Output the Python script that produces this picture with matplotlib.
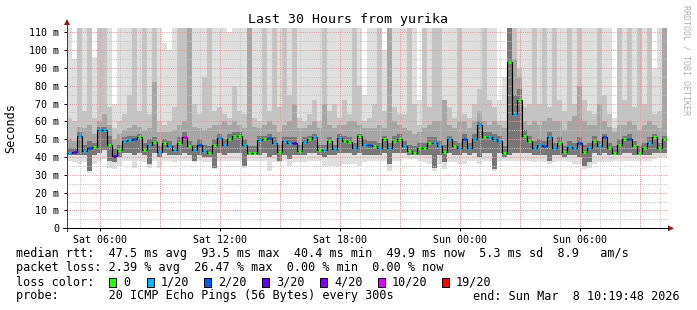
import numpy as np
import matplotlib
matplotlib.use("Agg")
import matplotlib.pyplot as plt
import matplotlib.dates as mdates
from matplotlib.patches import Polygon, Rectangle
from datetime import datetime, timedelta

# ---------------- data ----------------
start_time = datetime(2026, 3, 7, 4, 19, 48)
step_minutes = 15

median_ms = [42.5, 42.6, 52, 43.5, 45, 45.5, 55, 55, 47, 40.4,
             44, 49, 49.5, 50, 51.4, 44, 47, 48.5, 43, 48,
             46, 44, 48, 51, 46, 44, 47, 43.5, 42, 47,
             50.5, 47, 50, 52, 52, 47, 42, 42, 49.5, 50,
             50.5, 48, 43, 49, 48, 48, 43.5, 48.5, 50, 51,
             44, 44, 49, 44.5, 50.5, 49, 48.6, 45, 51.5, 47,
             46.5, 46, 45, 50, 45, 49, 50, 46, 43.5, 42.5,
             45, 45, 48, 48, 46, 43, 50, 46, 45, 50,
             45, 50, 58, 51, 51, 50, 49, 42.5, 93.5, 64,
             72, 52, 49, 45, 47, 46, 51, 45, 48, 42.8,
             45.5, 45, 48, 43, 45, 49, 46, 51, 45, 42.5,
             47, 50, 50, 46, 42.5, 45, 48, 51, 45, 49.9]

loss_idx = [1, 3, 1, 1, 2, 0, 1, 1, 0, 3,
            0, 1, 1, 2, 0, 0, 1, 0, 1, 0,
            1, 1, 0, 5, 0, 1, 2, 1, 0, 0,
            1, 1, 0, 0, 0, 1, 0, 0, 1, 0,
            2, 1, 0, 1, 1, 3, 0, 1, 0, 1,
            0, 1, 0, 1, 1, 0, 0, 1, 0, 1,
            2, 0, 1, 0, 1, 0, 0, 1, 0, 0,
            0, 0, 0, 1, 1, 0, 1, 0, 1, 2,
            1, 1, 1, 0, 1, 1, 1, 0, 0, 1,
            0, 0, 0, 1, 1, 2, 1, 1, 0, 0,
            1, 1, 2, 0, 1, 0, 1, 2, 0, 0,
            0, 0, 2, 0, 0, 0, 1, 0, 0, 0]

ping_min = [38, 37, 36, 37, 31, 36, 38, 39, 34, 33,
            35, 38, 38, 34, 38, 37, 34, 38, 34, 38,
            38, 37, 38, 38, 38, 37, 38, 37, 37, 33,
            38, 38, 38, 38, 38, 34, 38, 38, 38, 38,
            32, 37, 37, 38, 35, 37, 37, 37, 38, 38,
            38, 35, 35, 35, 35, 36, 36, 36, 35, 37,
            38, 38, 38, 38, 32, 38, 38, 40, 39, 39,
            38, 37, 36, 32, 36, 33, 37, 37, 36, 36,
            38, 38, 36, 38, 38, 32, 38, 38, 38, 38,
            38, 38, 38, 37, 38, 37, 36, 37, 38, 38,
            37, 36, 36, 33, 34, 36, 37, 37, 37, 38,
            38, 38, 38, 38, 38, 38, 38, 39, 40, 40]

ping_low = [41, 41, 41, 41, 32, 41, 42, 44, 38, 37,
            40, 42, 42, 41, 42, 41, 36, 42, 40, 42,
            41, 41, 41, 42, 41, 38, 41, 40, 40, 34,
            42, 41, 42, 42, 42, 35, 41, 41, 41, 42,
            40, 41, 38, 41, 39, 41, 41, 41, 42, 42,
            41, 40, 41, 41, 42, 42, 42, 41, 42, 41,
            41, 41, 41, 42, 36, 42, 42, 42, 41, 41,
            41, 41, 41, 34, 41, 37, 42, 41, 41, 42,
            41, 42, 40, 42, 42, 33, 42, 40, 41, 42,
            42, 42, 42, 41, 41, 41, 38, 41, 41, 40,
            41, 41, 40, 35, 37, 42, 41, 42, 41, 41,
            41, 42, 42, 41, 41, 41, 41, 42, 42, 42]

ping_core_hi = [45, 45, 54, 47, 49, 48, 57, 57, 52, 45,
                47, 51, 52, 52, 53, 48, 50, 51, 46, 50,
                49, 47, 51, 54, 49, 47, 50, 47, 46, 50,
                53, 50, 53, 54, 54, 50, 46, 46, 52, 52,
                53, 51, 47, 51, 51, 51, 47, 51, 52, 53,
                47, 47, 51, 47, 53, 52, 51, 48, 53, 50,
                49, 49, 48, 52, 48, 52, 53, 49, 47, 46,
                48, 48, 51, 51, 49, 47, 52, 49, 48, 53,
                48, 53, 60, 54, 54, 53, 52, 46, 115, 75,
                78, 55, 52, 49, 50, 49, 54, 48, 51, 46,
                49, 48, 51, 47, 48, 52, 49, 53, 48, 46,
                50, 52, 53, 49, 46, 48, 51, 53, 48, 52]

ping_dark_hi = [50, 49, 57, 56, 58, 53, 60, 64, 58, 50,
                53, 55, 56, 58, 57, 55, 56, 82, 54, 54,
                54, 55, 58, 60, 115, 57, 56, 55, 56, 58,
                58, 60, 58, 60, 58, 56, 115, 57, 56, 58,
                60, 58, 54, 58, 60, 70, 56, 56, 58, 60,
                56, 70, 58, 56, 58, 58, 60, 60, 58, 56,
                56, 56, 58, 56, 115, 60, 58, 56, 55, 53,
                54, 56, 58, 60, 60, 72, 58, 56, 60, 60,
                56, 60, 66, 60, 58, 60, 58, 56, 115, 95,
                85, 60, 58, 60, 58, 60, 62, 60, 60, 55,
                60, 63, 80, 60, 58, 58, 70, 60, 57, 54,
                58, 58, 60, 58, 55, 58, 60, 58, 56, 115]

ping_mid_hi = [62, 60, 115, 66, 115, 62, 115, 115, 68, 56,
               60, 64, 75, 115, 66, 115, 64, 115, 60, 58,
               60, 68, 115, 115, 115, 70, 64, 85, 115, 66,
               68, 64, 62, 80, 66, 64, 115, 62, 60, 115,
               66, 115, 68, 115, 75, 115, 62, 60, 64, 72,
               60, 115, 66, 70, 62, 72, 64, 115, 80, 60,
               62, 70, 115, 66, 115, 68, 64, 64, 115, 70,
               58, 115, 68, 115, 115, 66, 68, 62, 115, 64,
               62, 70, 78, 115, 72, 68, 60, 60, 115, 115,
               90, 68, 70, 115, 70, 115, 68, 115, 72, 66,
               115, 70, 115, 72, 66, 64, 115, 75, 64, 56,
               115, 72, 115, 68, 115, 70, 115, 64, 66, 115]

ping_max = [115, 95, 115, 115, 115, 96, 115, 115, 115, 70,
            115, 115, 115, 115, 115, 115, 115, 115, 115, 104,
            100, 115, 115, 115, 115, 115, 115, 115, 115, 115,
            115, 115, 110, 115, 115, 115, 115, 115, 115, 115,
            115, 115, 115, 115, 115, 115, 115, 115, 115, 115,
            115, 115, 115, 115, 115, 115, 115, 115, 115, 75,
            115, 115, 115, 100, 115, 115, 115, 115, 115, 115,
            72, 115, 115, 115, 115, 115, 115, 115, 115, 115,
            115, 115, 115, 115, 115, 115, 72, 85, 115, 115,
            115, 115, 115, 115, 115, 115, 115, 115, 115, 115,
            115, 115, 115, 115, 115, 115, 115, 115, 115, 62,
            115, 115, 115, 115, 115, 115, 115, 90, 115, 115]

loss_labels = ["0", "1/20", "2/20", "3/20", "4/20", "10/20", "19/20"]
loss_colors = ["#26ff00", "#00b8ff", "#0059ff", "#5e00ff", "#7e00ff", "#dd00ff", "#ff0000"]

y_ticks = [0, 10, 20, 30, 40, 50, 60, 70, 80, 90, 100, 110]
y_tick_labels = ["0", "10 m", "20 m", "30 m", "40 m", "50 m", "60 m", "70 m",
                 "80 m", "90 m", "100 m", "110 m"]
y_max = 112.2

title = "Last 30 Hours from yurika"
stats_rtt = "median rtt:  47.5 ms avg  93.5 ms max  40.4 ms min  49.9 ms now  5.3 ms sd  8.9   am/s"
stats_loss = "packet loss: 2.39 % avg  26.47 % max  0.00 % min  0.00 % now"
probe_text = "probe:       20 ICMP Echo Pings (56 Bytes) every 300s"
end_text = "end: Sun Mar  8 10:19:48 2026"

# ---------------- figure ----------------
W, H = 697, 310
MONO = "DejaVu Sans Mono"
fig = plt.figure(figsize=(W / 100, H / 100), dpi=100)
fig.patch.set_facecolor("white")

x0_px, x1_px = 67, 667
ytop_px, ybot_px = 28.3, 228.3
ax = fig.add_axes([x0_px / W, (H - ybot_px) / H, (x1_px - x0_px) / W, (ybot_px - ytop_px) / H])
ax.set_facecolor("white")

n = len(median_ms)
edges = [start_time + timedelta(minutes=step_minutes * i) for i in range(n + 1)]
ex = mdates.date2num(edges)


def ext(a):
    return np.append(np.asarray(a, float), a[-1])


ax.fill_between(ex, ext(ping_min), ext(ping_max), step="post", color="#dfdfdf", lw=0, zorder=1)
ax.fill_between(ex, ext(ping_low), ext(ping_mid_hi), step="post", color="#c4c4c4", lw=0, zorder=2)
ax.fill_between(ex, ext(ping_low), ext(ping_dark_hi), step="post", color="#a6a6a6", lw=0, zorder=3)
ax.fill_between(ex, ext(ping_low), ext(ping_core_hi), step="post", color="#787878", lw=0, zorder=4)

ax.set_xlim(ex[0], ex[-1])
ax.set_ylim(0, y_max)

# grid
grid_minor_x = [t for t in mdates.HourLocator(interval=1).tick_values(edges[0], edges[-1])
                if ex[0] < t < ex[-1]]
grid_major_x = [t for t in mdates.HourLocator(byhour=range(0, 24, 3)).tick_values(edges[0], edges[-1])
                if ex[0] < t < ex[-1]]
dash = (0, (1, 1.2))
for t in grid_minor_x:
    ax.axvline(t, color="#c4c4c4", lw=0.72, ls=dash, zorder=5)
for v in np.arange(5, y_max, 10):
    ax.axhline(v, color="#c4c4c4", lw=0.72, ls=dash, zorder=5)
for t in grid_major_x:
    ax.axvline(t, color="#e89a9a", lw=0.72, ls=dash, zorder=6)
for v in y_ticks[1:]:
    ax.axhline(v, color="#e89a9a", lw=0.72, ls=dash, zorder=6)

# median line and loss-coloured markers
ax.step(ex, ext(median_ms), where="post", color="#000000", lw=0.8, zorder=7)
px_day = (ex[-1] - ex[0]) / (x1_px - x0_px)
for i in range(n):
    ax.hlines(median_ms[i], ex[i] + 1.0 * px_day, ex[i + 1] - 1.0 * px_day,
              color=loss_colors[loss_idx[i]], lw=2.2, zorder=8)

# ticks
for s in ax.spines.values():
    s.set_visible(False)
ax.set_yticks(y_ticks)
ax.set_yticklabels(y_tick_labels, fontfamily=MONO, fontsize=7.2)
ax.xaxis.set_major_locator(mdates.HourLocator(byhour=[0, 6, 12, 18]))
ax.xaxis.set_major_formatter(mdates.DateFormatter("%a %H:%M"))
for lab in ax.get_xticklabels():
    lab.set_fontfamily(MONO)
    lab.set_fontsize(7.2)
ax.tick_params(axis="y", length=2, width=0.7, pad=3.5, color="#000000")
ax.tick_params(axis="x", length=2, width=0.7, pad=3.0, color="#000000")

# overlay for axis lines, arrows and texts
ov = fig.add_axes([0, 0, 1, 1], zorder=10)
ov.set_xlim(0, W)
ov.set_ylim(H, 0)
ov.axis("off")
ov.patch.set_alpha(0)
ov.plot([x0_px, x0_px], [ybot_px + 3, 24], color="#404040", lw=0.75)
ov.plot([x0_px - 4, x1_px + 1], [ybot_px, ybot_px], color="#000000", lw=0.75)
ov.add_patch(Polygon([[x0_px - 3, 25], [x0_px + 3, 25], [x0_px, 19]], closed=True,
                     color="#8b1a1a", lw=0))
ov.add_patch(Polygon([[x1_px + 1, ybot_px - 3], [x1_px + 1, ybot_px + 3], [x1_px + 7, ybot_px]],
                     closed=True, color="#8b1a1a", lw=0))

ov.text(347.5, 19, title, family=MONO, fontsize=9.5, ha="center", va="center", color="#000000")
ov.text(11, (ytop_px + ybot_px) / 2, "Seconds", family=MONO, fontsize=8.5, rotation=90,
        ha="center", va="center", color="#000000")
ov.text(686, 5, "RRDTOOL / TOBI OETIKER", family=MONO, fontsize=6, rotation=270,
        ha="center", va="top", color="#b0b0b0")

ov.text(16, 254, stats_rtt, family=MONO, fontsize=8.5, ha="left", va="center", color="#000000")
ov.text(16, 268, stats_loss, family=MONO, fontsize=8.5, ha="left", va="center", color="#000000")
ov.text(16, 282, "loss color:", family=MONO, fontsize=8.5, ha="left", va="center", color="#000000")
box_x = [109, 147, 204, 262, 320, 378, 442]
for bx, lab, col in zip(box_x, loss_labels, loss_colors):
    ov.add_patch(Rectangle((bx, 277.5), 7, 9, facecolor=col, edgecolor="#000000", lw=0.7))
    ov.text(bx + 14, 282, lab, family=MONO, fontsize=8.5, ha="left", va="center", color="#000000")
ov.text(16, 296, probe_text, family=MONO, fontsize=8.5, ha="left", va="center", color="#000000")
ov.text(680, 296, end_text, family=MONO, fontsize=8.5, ha="right", va="center", color="#000000")

fig.savefig("out.png", dpi=100, facecolor="white")
